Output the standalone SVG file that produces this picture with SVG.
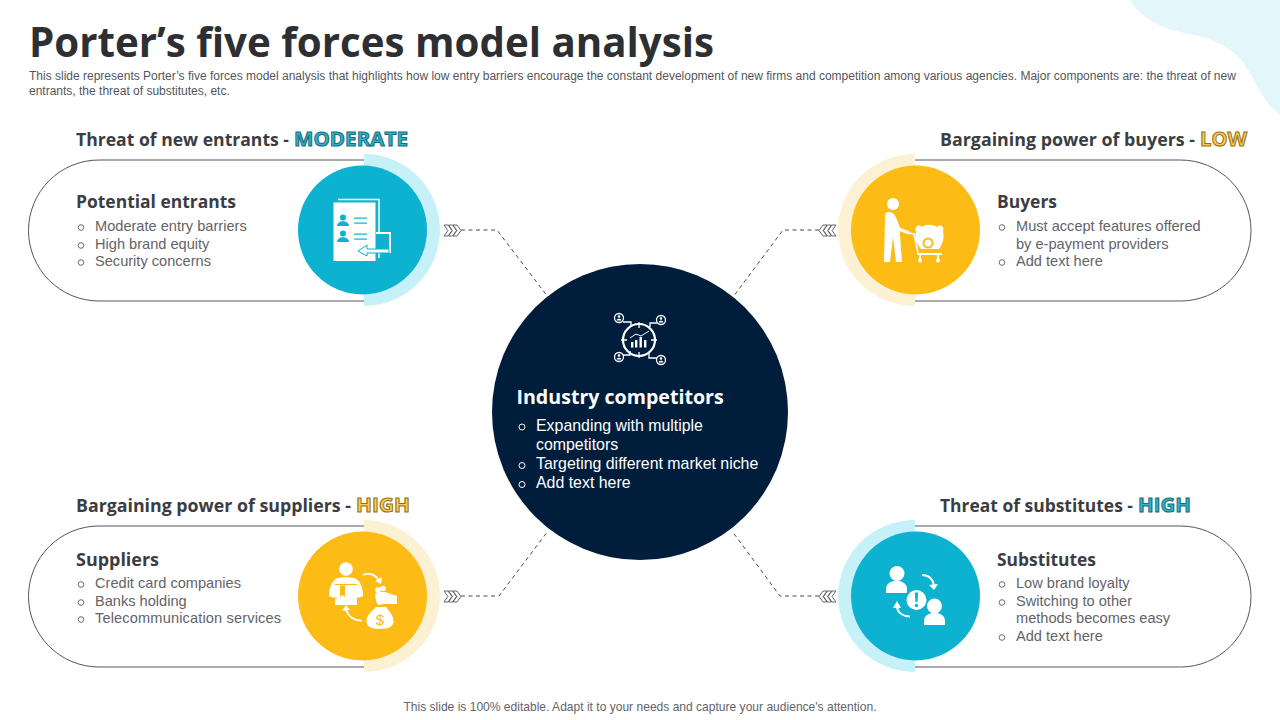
<svg xmlns="http://www.w3.org/2000/svg" width="1280" height="720" viewBox="0 0 1280 720">
<style>
.h{font-family:"Open Sans","Liberation Sans",sans-serif;font-weight:700;fill:#3b3d42;font-size:18px}
.t{font-family:"Liberation Sans",Arial,sans-serif;fill:#636468;font-size:14.6px}
.s{font-family:"Liberation Sans",Arial,sans-serif;fill:#55565a;font-size:12px}
.b{fill:none;stroke:#6a6b6e;stroke-width:1}
.w{fill:none;stroke:#fff;stroke-width:1}
.pill{fill:#fff;stroke:#55565a;stroke-width:1}
.dash{fill:none;stroke:#4a4b50;stroke-width:1;stroke-dasharray:4 3.5}
.chev{fill:#fff;stroke:#55565a;stroke-width:.9}
.tag{font-family:"Open Sans","Liberation Sans",sans-serif;font-weight:700;font-size:20px;stroke-width:1px}
.teal{fill:#2eb3c9;stroke:#1a6b7c}
.gold{fill:#fbcb57;stroke:#94710f}
</style>
<defs>
<g id="chevR" class="chev"><path d="M0 0h4l4 5.500-4 5.500H0l4-5.500z"/><path d="M4.500 0h4l4 5.500-4 5.500h-4l4-5.500z"/><path d="M9 0h4l4 5.500-4 5.500H9l4-5.500z"/></g>
</defs>
<path id="corner" d="M1130 0C1142 20 1165 30 1190 34C1215 39 1232 48 1243 62C1252 76 1258 88 1263 96C1268 104 1274 111 1280 115V0Z" fill="#e3f6fa"/>
<text x="29" y="57" class="h" style="font-size:42px;fill:#2d2f33" textLength="685" lengthAdjust="spacingAndGlyphs">Porter’s five forces model analysis</text>
<text class="s"><tspan x="29" y="80">This slide represents Porter’s five forces model analysis that highlights how low entry barriers encourage the constant development of new firms and competition among various agencies. Major components are: the threat of new</tspan><tspan x="29" y="94.500">entrants, the threat of substitutes, etc.</tspan></text>

<g id="connectors">
<path class="dash" d="M461 230H497L548 297"/>
<path class="dash" d="M819 230H783L733 297"/>
<path class="dash" d="M461 596H499L548 531"/>
<path class="dash" d="M819 596H780L732 531"/>
<use href="#chevR" x="444" y="225"/>
<use href="#chevR" x="444" y="591"/>
<use href="#chevR" transform="translate(836 225) scale(-1 1)"/>
<use href="#chevR" transform="translate(836 591) scale(-1 1)"/>
</g>

<g id="entrants">
<text x="76" y="145.500" class="h" textLength="213" lengthAdjust="spacingAndGlyphs">Threat of new entrants -</text>
<text x="294" y="146" class="tag teal" textLength="114" lengthAdjust="spacingAndGlyphs">MODERATE</text>
<path class="pill" d="M364 160H99A70.500 70.500 0 0 0 99 301H364"/>
<path d="M364 154A76 76 0 0 1 364 306Z" fill="#c6f1f9"/>
<circle cx="362.500" cy="230" r="64.500" fill="#0db2d0"/>
<text x="76" y="207.500" class="h" textLength="160" lengthAdjust="spacingAndGlyphs">Potential entrants</text>
<g class="b"><circle cx="81" cy="227.500" r="2.800"/><circle cx="81" cy="245.500" r="2.800"/><circle cx="81" cy="262.500" r="2.800"/></g>
<text class="t"><tspan x="95" y="231">Moderate entry barriers</tspan><tspan x="95" y="249">High brand equity</tspan><tspan x="95" y="266">Security concerns</tspan></text>
<g id="icon-entrants">
<path d="M338 199.500H379V258" fill="none" stroke="#fff" stroke-width="1.500"/>
<rect x="333.500" y="202.500" width="42" height="58.500" fill="#fff"/>
<g fill="#0db2d0"><circle cx="343" cy="217.500" r="3"/><path d="M337 226c0-6.500 12-6.500 12 0z"/><circle cx="343" cy="233.500" r="3"/><path d="M337 242c0-6.500 12-6.500 12 0z"/>
<rect x="354" y="217.500" width="13" height="1.200"/><rect x="354" y="222.500" width="13" height="1.200"/><rect x="354" y="233.500" width="13" height="1.200"/><rect x="354" y="238.500" width="13" height="1.200"/></g>
<path d="M376 233H390V252H376" fill="#0db2d0" stroke="#fff" stroke-width="2"/>
<path d="M389 249H367V245L358 251L367 256V253H389Z" fill="#fff" stroke="#0db2d0" stroke-width="1"/>
</g>
</g>

<g id="buyers">
<text x="940" y="145.500" class="h" textLength="255" lengthAdjust="spacingAndGlyphs">Bargaining power of buyers -</text>
<text x="1200" y="146" class="tag gold" textLength="47" lengthAdjust="spacingAndGlyphs">LOW</text>
<path class="pill" d="M915 160H1180.500A70.500 70.500 0 0 1 1180.500 301H915"/>
<path d="M915 154A77 76 0 0 0 915 306Z" fill="#fdf1d3"/>
<circle cx="915.500" cy="230" r="64.500" fill="#fdbb16"/>
<text x="997" y="207.500" class="h" textLength="60" lengthAdjust="spacingAndGlyphs">Buyers</text>
<g class="b"><circle cx="1002" cy="227.500" r="2.800"/><circle cx="1002" cy="262.500" r="2.800"/></g>
<text class="t"><tspan x="1016" y="231">Must accept features offered</tspan><tspan x="1016" y="249">by e-payment providers</tspan><tspan x="1016" y="266">Add text here</tspan></text>
<g id="icon-buyers" fill="#fff">
<circle cx="893" cy="204" r="6"/>
<path d="M888 212C885 212 885 215 885 219L884 262H890L893 237L896 262H902L899.500 228L896 218C895 214 892 212 888 212Z"/>
<path d="M895 219L899 229L909 233" fill="none" stroke="#fff" stroke-width="3"/>
<path d="M909 233L914 234L918 253" fill="none" stroke="#fff" stroke-width="1.500"/>
<path d="M916 232C914 226 919 224 922 227C925 224 934 224 937 227C940 224 945 226 943 232C945 238 942 245 939 249H921C917 245 914 238 916 232Z"/>
<circle cx="928" cy="243" r="5.500" fill="#fdbb16"/><circle cx="928" cy="243" r="3.500"/>
<rect x="917" y="253" width="25" height="2"/><rect x="919" y="255" width="2" height="4"/><rect x="937" y="255" width="2" height="4"/><circle cx="920" cy="260.500" r="2"/><circle cx="938" cy="260.500" r="2"/>
</g>
</g>

<g id="suppliers">
<text x="76" y="511.500" class="h" textLength="275" lengthAdjust="spacingAndGlyphs">Bargaining power of suppliers -</text>
<text x="356" y="512" class="tag gold" textLength="54" lengthAdjust="spacingAndGlyphs">HIGH</text>
<path class="pill" d="M364 526H99A70.500 70.500 0 0 0 99 667H364"/>
<path d="M364 520A76 76 0 0 1 364 672Z" fill="#fdf1d3"/>
<circle cx="362.500" cy="596" r="64.500" fill="#fdbb16"/>
<text x="76" y="565.500" class="h" textLength="83" lengthAdjust="spacingAndGlyphs">Suppliers</text>
<g class="b"><circle cx="81" cy="584.500" r="2.800"/><circle cx="81" cy="602.500" r="2.800"/><circle cx="81" cy="619.500" r="2.800"/></g>
<text class="t"><tspan x="95" y="588">Credit card companies</tspan><tspan x="95" y="606">Banks holding</tspan><tspan x="95" y="623" textLength="186" lengthAdjust="spacing">Telecommunication services</tspan></text>
<g id="icon-suppliers" fill="#fff">
<circle cx="346" cy="569" r="6.800"/>
<path d="M338 578L346 577L354 578C360 580 363 587 363 596L359 598H333L329 596C329 587 332 580 338 578Z"/>
<rect x="335" y="585" width="22" height="20"/>
<path d="M335 584.500H357" stroke="#fdbb16" stroke-width="1.200"/>
<path d="M337 598H331M361 598H357" stroke="#fdbb16" stroke-width="1"/>
<path d="M340 585.500V597L342.500 595L345 597V585.500Z" fill="#fdbb16"/>
<path d="M363 575C370 572 376 575 379 581" fill="none" stroke="#fff" stroke-width="1.800"/><path d="M375 581L381 584L382 577Z"/>
<path d="M362 620.500C354 621 348 616 346 610" fill="none" stroke="#fff" stroke-width="1.800"/><path d="M342 611L346 605L350 610Z"/>
<path d="M375 594L378 592H385L397 596V604H384L378 605L376 601Z"/>
<circle cx="378" cy="590" r="2.800"/><circle cx="383" cy="588.500" r="2.800"/>
<path d="M376 607H386C388 610 391 612 393 618C395 625 391 629 380 629C369 629 365 625 367 618C369 612 374 610 376 607Z"/>
<text x="380" y="625" text-anchor="middle" style="font-family:'Liberation Sans',sans-serif;font-size:15px;fill:#fdbb16">$</text>
</g>
</g>

<g id="substitutes">
<text x="940" y="511.500" class="h" textLength="193" lengthAdjust="spacingAndGlyphs">Threat of substitutes -</text>
<text x="1138" y="512" class="tag teal" textLength="53" lengthAdjust="spacingAndGlyphs">HIGH</text>
<path class="pill" d="M915 526H1180.500A70.500 70.500 0 0 1 1180.500 667H915"/>
<path d="M915 520A77 76 0 0 0 915 672Z" fill="#c6f1f9"/>
<circle cx="915.500" cy="596" r="64.500" fill="#0db2d0"/>
<text x="997" y="565.500" class="h" textLength="99" lengthAdjust="spacingAndGlyphs">Substitutes</text>
<g class="b"><circle cx="1002" cy="584.500" r="2.800"/><circle cx="1002" cy="602.500" r="2.800"/><circle cx="1002" cy="637.500" r="2.800"/></g>
<text class="t"><tspan x="1016" y="588">Low brand loyalty</tspan><tspan x="1016" y="606">Switching to other</tspan><tspan x="1016" y="623">methods becomes easy</tspan><tspan x="1016" y="641">Add text here</tspan></text>
<g id="icon-substitutes" fill="#fff">
<circle cx="897" cy="573.500" r="7.500"/>
<path d="M886 593V589C886 578 907 578 907 589V593Z"/>
<circle cx="934.500" cy="606" r="7.500"/>
<path d="M924 625V621C924 610 945 610 945 621V625Z"/>
<circle cx="916.500" cy="600" r="10"/>
<path d="M914.800 592.500H918.200L917.500 602H915.500Z" fill="#0db2d0"/><circle cx="916.500" cy="605.500" r="1.700" fill="#0db2d0"/>
<path d="M922 575C929 575 933 579 934 586" fill="none" stroke="#fff" stroke-width="2"/><path d="M929 585L938 584L934 590Z"/>
<path d="M910 616.500C903 616.500 898 613 897 607" fill="none" stroke="#fff" stroke-width="2"/><path d="M893 608L897 601L901 608Z"/>
</g>
</g>

<g id="competitors">
<circle cx="640" cy="412" r="148" fill="#001e3c"/>
<g id="icon-competitors">
<circle cx="639" cy="340" r="16" class="w" style="stroke-width:2.200"/>
<g fill="#fff"><rect x="631" y="342" width="2.400" height="5.500"/><rect x="635" y="340" width="2.400" height="7.500"/><rect x="639.500" y="337" width="2.400" height="10.500"/><rect x="644" y="340" width="2.400" height="7.500"/></g>
<path d="M630 338L636 334L641 336L649 331" class="w"/>
<g class="w" style="stroke-width:1.300"><circle cx="619" cy="318" r="4.500"/><circle cx="661" cy="320" r="4.500"/><circle cx="619" cy="357" r="4.500"/><circle cx="661" cy="360" r="4.500"/>
<path d="M623 322H631V327M657 323H650V327M623 355H630V351M657 358H649V352M639 322V328M639 352V358M621 340H627M651 340H657"/></g>
<g fill="#fff"><circle cx="619" cy="316.500" r="1.300"/><path d="M616.500 320.500c0-2.500 5-2.500 5 0z"/><circle cx="661" cy="318.500" r="1.300"/><path d="M658.500 322.500c0-2.500 5-2.500 5 0z"/><circle cx="619" cy="355.500" r="1.300"/><path d="M616.500 359.500c0-2.500 5-2.500 5 0z"/><circle cx="661" cy="358.500" r="1.300"/><path d="M658.500 362.500c0-2.500 5-2.500 5 0z"/></g>
</g>
<text x="516.500" y="404" class="h" style="font-size:19.600px;fill:#fff">Industry competitors</text>
<g class="w"><circle cx="522" cy="427" r="3"/><circle cx="522" cy="465.500" r="3"/><circle cx="522" cy="484.500" r="3"/></g>
<text style="font-family:'Liberation Sans',Arial,sans-serif;font-size:15.900px;fill:#fff"><tspan x="536" y="431">Expanding with multiple</tspan><tspan x="536" y="450">competitors</tspan><tspan x="536" y="469">Targeting different market niche</tspan><tspan x="536" y="488">Add text here</tspan></text>
</g>
<text x="640" y="711" text-anchor="middle" class="s" style="font-size:12.050px;fill:#636468">This slide is 100% editable. Adapt it to your needs and capture your audience's attention.</text>
</svg>
